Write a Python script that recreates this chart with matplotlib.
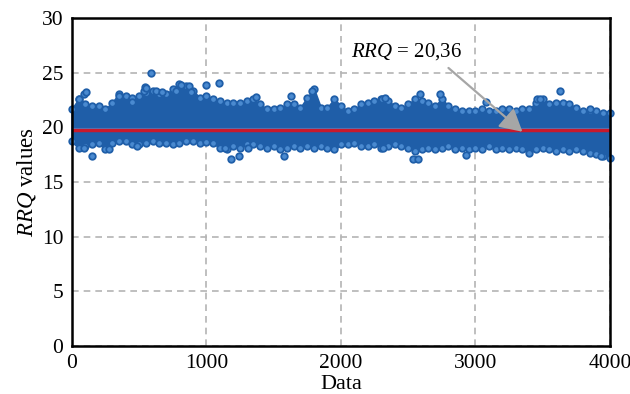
import matplotlib
matplotlib.use("Agg")
import matplotlib.pyplot as plt

# ---- data ----
band_x = list(range(0, 4001, 50))
band_top = [21.65, 22.57, 22.11, 21.96, 21.96, 21.65, 22.26, 23.03, 22.87, 22.72,
            22.87, 23.18, 23.33, 23.03, 23.03, 23.49, 23.94, 23.79, 23.33, 22.72,
            22.90, 22.57, 22.42, 22.26, 22.26, 22.26, 22.42, 22.57, 22.11, 21.65,
            21.65, 21.80, 22.11, 22.11, 21.80, 22.72, 23.49, 21.80, 21.80, 22.57,
            21.96, 21.50, 21.65, 22.11, 22.26, 22.42, 22.57, 22.42, 21.96, 21.80,
            22.11, 22.57, 22.42, 22.26, 21.96, 22.57, 21.96, 21.65, 21.50, 21.50,
            21.50, 21.65, 21.50, 21.50, 21.65, 21.65, 21.50, 21.65, 21.65, 22.26,
            22.57, 22.11, 22.26, 22.26, 22.11, 21.80, 21.50, 21.50, 21.50, 21.35,
            21.35]
band_bot = [18.75, 18.13, 18.29, 18.44, 18.59, 17.98, 18.59, 18.75, 18.75, 18.44,
            18.44, 18.59, 18.75, 18.59, 18.59, 18.44, 18.59, 18.75, 18.75, 18.59,
            18.70, 18.59, 18.13, 17.98, 18.29, 18.13, 18.44, 18.44, 18.29, 18.13,
            18.29, 17.98, 18.13, 18.29, 18.13, 18.29, 18.13, 18.29, 18.13, 17.98,
            18.44, 18.44, 18.59, 18.29, 18.29, 18.44, 18.13, 18.29, 18.44, 18.29,
            18.13, 17.83, 17.98, 18.13, 17.98, 18.13, 18.29, 17.98, 18.13, 17.98,
            18.13, 17.98, 18.29, 17.98, 18.13, 17.98, 18.13, 17.98, 17.68, 17.98,
            18.13, 17.98, 17.83, 17.98, 17.83, 17.98, 17.83, 17.68, 17.52, 17.37,
            17.22]

out_x = [54, 89, 104, 352, 451, 538, 545, 550, 587, 625, 674, 773, 810, 872,
         885, 994, 1093, 1373, 1630, 1782, 2305, 2330, 2592, 2736, 3076, 3457,
         3480, 3633, 3856,
         91, 149, 273, 488, 1138, 1185, 1242, 1309, 1576, 2315, 2533, 2575,
         2930, 3935]
out_y = [22.6, 23.1, 23.2, 22.9, 22.3, 23.3, 23.7, 23.6, 25.0, 23.3, 23.2, 23.3,
         23.9, 23.8, 23.2, 23.9, 24.1, 22.8, 22.9, 23.3, 22.6, 22.7, 23.1, 23.1,
         22.3, 22.6, 22.6, 23.3, 21.7,
         18.1, 17.4, 18.0, 18.3, 18.1, 17.1, 17.4, 18.1, 17.4, 18.1, 17.1, 17.1,
         17.5, 17.4]

mean_value = 19.75
mean_label = "= 20,36"
x_ticks = [0, 1000, 2000, 3000, 4000]
y_ticks = [0, 5, 10, 15, 20, 25, 30]

# ---- style ----
plt.rcParams['font.family'] = ['Liberation Serif', 'DejaVu Serif']
plt.rcParams['mathtext.fontset'] = 'custom'
plt.rcParams['mathtext.rm'] = 'Liberation Serif'
plt.rcParams['mathtext.it'] = 'Liberation Serif:italic'

fig = plt.figure(figsize=(6.3, 3.94), dpi=100)
ax = fig.add_axes([0.114, 0.122, 0.854, 0.832])

blue = '#1f5ea8'
ring_face = '#4a8ad0'
ax.fill_between(band_x, band_bot, band_top, facecolor=blue, edgecolor=blue,
                linewidth=1.5, zorder=3, clip_on=False)
ax.scatter(band_x + band_x, band_top + band_bot, s=22, facecolor=ring_face,
           edgecolor=blue, linewidth=1.3, zorder=3.5, clip_on=False)
ax.scatter(out_x, out_y, s=22, facecolor=ring_face, edgecolor=blue,
           linewidth=1.3, zorder=4)
ax.plot([0, 4000], [mean_value + 0.22, mean_value + 0.22], color='#3d86cf',
        linewidth=0.8, zorder=5)
ax.plot([0, 4000], [mean_value, mean_value], color='#c8192c',
        linewidth=2.5, zorder=6)

ax.annotate('$\\mathit{RRQ}$ ' + mean_label, xy=(3350, 19.6),
            xytext=(2075, 26.9), fontsize=15, ha='left', va='center',
            arrowprops=dict(arrowstyle='-|>,head_length=0.9,head_width=0.5',
                            color='#a6a6a6', lw=1.6,
                            shrinkA=3, shrinkB=0,
                            relpos=(0.82, 0.0)),
            zorder=7)

ax.set_xlim(0, 4000)
ax.set_ylim(0, 30)
ax.set_xticks(x_ticks)
ax.set_yticks(y_ticks)
ax.tick_params(length=0, labelsize=15.5, pad=6)
ax.grid(True, color='#b4b4b4', linestyle=(0, (4, 3)), linewidth=1.2, zorder=0)
ax.set_axisbelow(True)
for s in ax.spines.values():
    s.set_linewidth(1.8)
    s.set_color('black')
    s.set_zorder(8)

ax.set_ylabel('$\\mathit{RRQ}$ values', fontsize=16.5, labelpad=3)
ax.set_xlabel('Data', fontsize=16, labelpad=1)

fig.savefig('out.png', dpi=100)
